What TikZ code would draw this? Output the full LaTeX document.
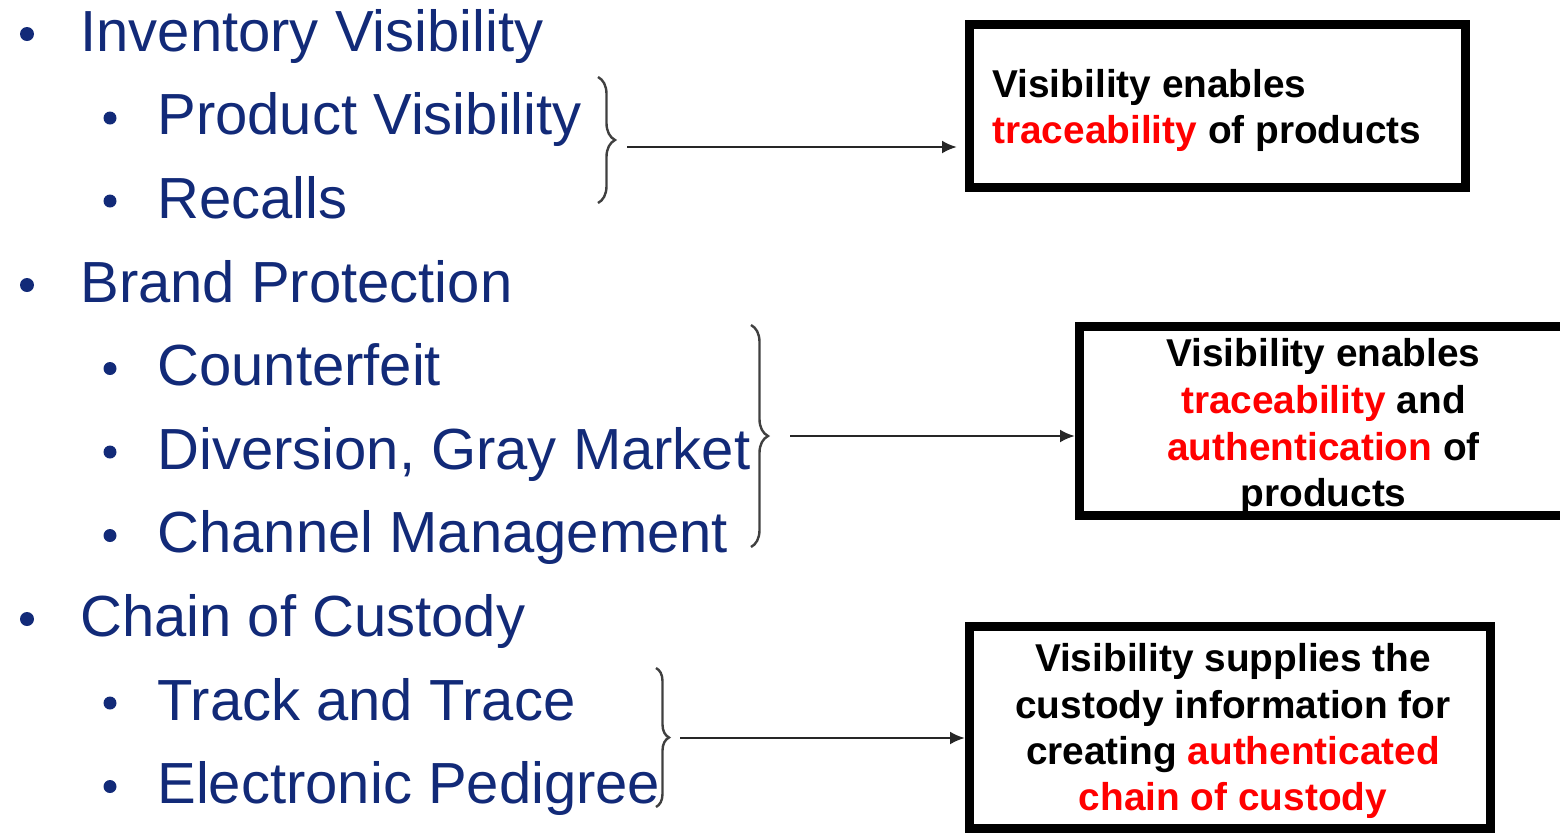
\documentclass[tikz,border=0pt]{standalone}
\usepackage{fontspec}
\setmainfont{Liberation Sans}
\usetikzlibrary{arrows.meta,decorations.pathreplacing}
\definecolor{listblue}{RGB}{18,42,120}
\definecolor{hired}{RGB}{255,0,0}
\begin{document}
\begin{tikzpicture}[x=0.5pt,y=-0.5pt,
  lvl/.style={font=\fontsize{29pt}{34pt}\selectfont, text=listblue, anchor=base west, inner sep=0pt},
  bulone/.style={circle, fill=listblue, inner sep=0pt, minimum size=7pt},
  bultwo/.style={circle, fill=listblue, inner sep=0pt, minimum size=6.5pt},
  box/.style={draw=black, line width=4.5pt, inner sep=0pt},
  boxtxt/.style={font=\bfseries\fontsize{19.4pt}{23pt}\selectfont, inner sep=0pt, anchor=base},
  brc/.style={decorate, decoration={brace, amplitude=#1}, draw=black!75, line width=1.2pt},
  conn/.style={-{Latex[length=7.5pt,width=6.5pt]}, draw=black!85, line width=1.3pt}]
\useasboundingbox (0,0) rectangle (1560,832);
\clip (0,0) rectangle (1560,832);

% list
\node[bulone] (d1) at (27,34) {};
\node[lvl] (i1) at (80,51) {Inventory Visibility};
\node[bultwo] (d2) at (110,118) {};
\node[lvl] (i2) at (157,134.5) {Product Visibility};
\node[bultwo] (d3) at (110,201) {};
\node[lvl] (i3) at (157,218) {Recalls};
\node[bulone] (d4) at (27,285) {};
\node[lvl] (i4) at (80,302) {Brand Protection};
\node[bultwo] (d5) at (110,368.5) {};
\node[lvl] (i5) at (157,385.5) {Counterfeit};
\node[bultwo] (d6) at (110,452) {};
\node[lvl] (i6) at (157,469) {Diversion, Gray Market};
\node[bultwo] (d7) at (110,535.5) {};
\node[lvl] (i7) at (157,552.5) {Channel Management};
\node[bulone] (d8) at (27,619) {};
\node[lvl] (i8) at (80,636) {Chain of Custody};
\node[bultwo] (d9) at (110,703) {};
\node[lvl] (i9) at (157,720) {Track and Trace};
\node[bultwo] (d10) at (110,786.5) {};
\node[lvl] (i10) at (157,803.5) {Electronic Pedigree};

% braces
\draw[brc=8.5pt] (598,77) -- (598,203);
\draw[brc=8.5pt] (751,325) -- (751,547);
\draw[brc=6.5pt] (656,668) -- (656,807);

% boxes
\node[box, minimum width=248pt, minimum height=81.5pt] (box1) at (1217.5,106) {};
\node[box, minimum width=244pt, minimum height=94.5pt] (box2) at (1323.5,421) {};
\node[box, minimum width=260.5pt, minimum height=101pt] (box3) at (1230,727.5) {};

% box texts
\node[boxtxt, anchor=base west] (t11) at (992,97) {Visibility enables};
\node[boxtxt, anchor=base west] (t12) at (992,143) {\textcolor{hired}{traceability} of products};

\node[boxtxt] (t21) at (1323.5,366) {Visibility enables};
\node[boxtxt] (t22) at (1323.5,413) {\textcolor{hired}{traceability} and};
\node[boxtxt] (t23) at (1323.5,460) {\textcolor{hired}{authentication} of};
\node[boxtxt] (t24) at (1323.5,506) {products};

\node[boxtxt] (t31) at (1233,671) {Visibility supplies the};
\node[boxtxt] (t32) at (1233,718) {custody information for};
\node[boxtxt] (t33) at (1233,764) {creating \textcolor{hired}{authenticated}};
\node[boxtxt] (t34) at (1233,810) {\textcolor{hired}{chain of custody}};

% connectors
\coordinate (s1) at (627,147);
\coordinate (s2) at (790,436);
\coordinate (s3) at (680,738);
\draw[conn, shorten >=4pt] (s1) -- (s1 -| box1.west);
\draw[conn] (s2) -- (s2 -| box2.west);
\draw[conn] (s3) -- (s3 -| box3.west);
\end{tikzpicture}
\end{document}
